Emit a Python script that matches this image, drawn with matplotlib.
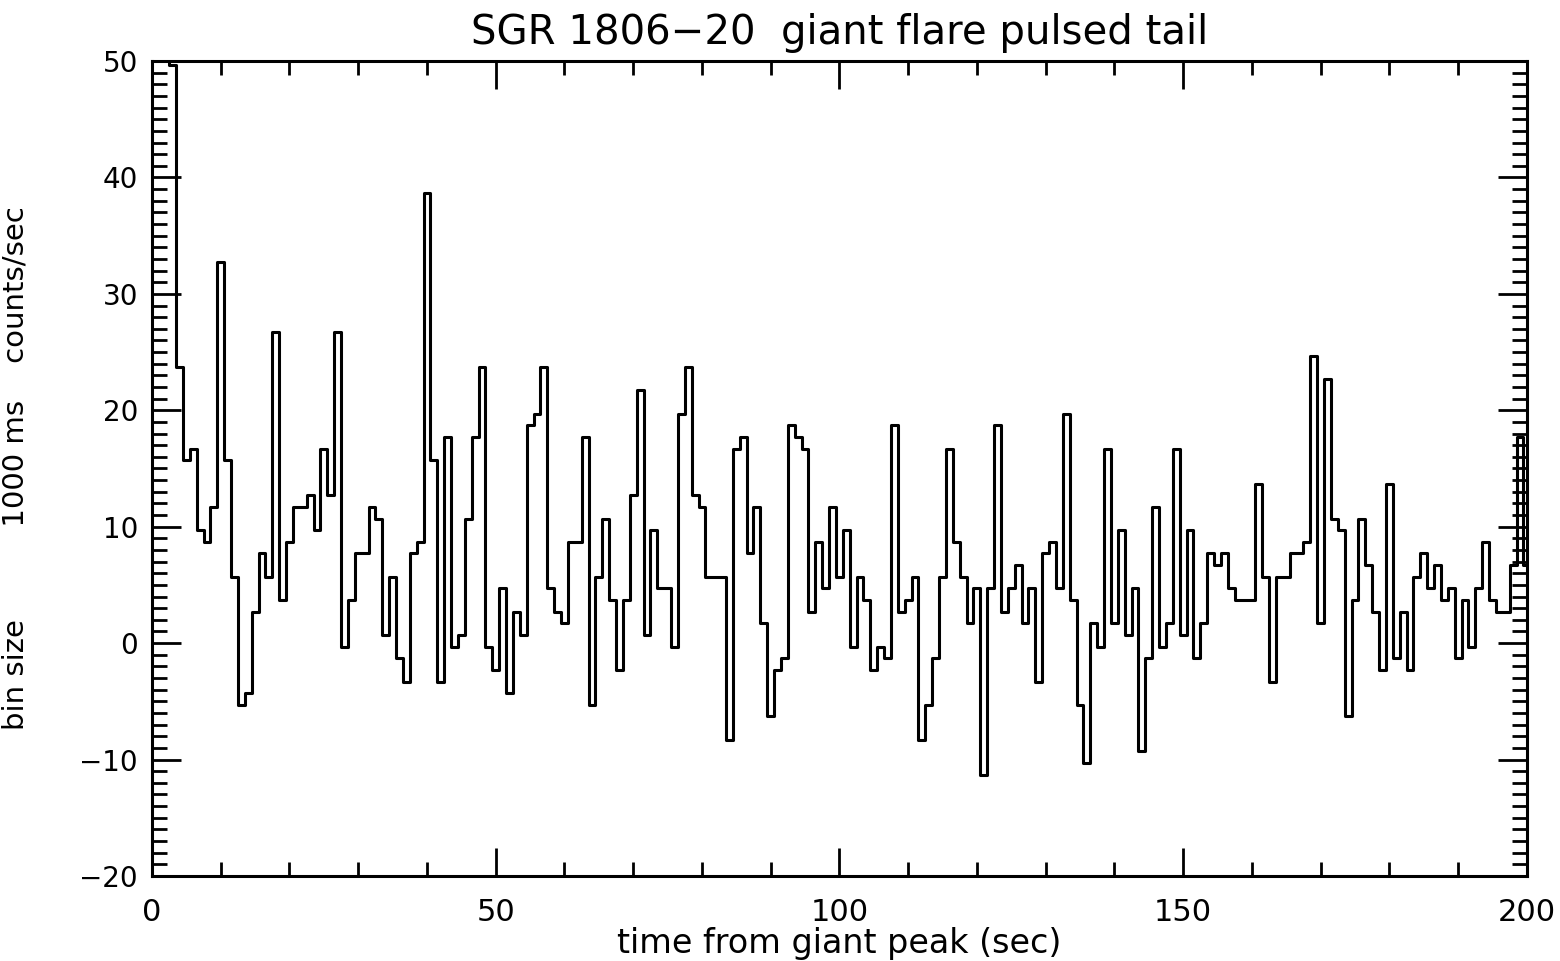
import numpy as np
import matplotlib
matplotlib.use("Agg")
import matplotlib.pyplot as plt
from matplotlib.ticker import MultipleLocator

# background-subtracted rate, 1 s bins, t = 0 .. 200 s (first bins are off scale)
rate = [
    60.0, 58.0, 54.0, 49.7, 23.7, 15.7, 16.7, 9.7, 8.7, 11.7,
    32.7, 15.7, 5.7, -5.3, -4.3, 2.7, 7.7, 5.7, 26.7, 3.7,
    8.7, 11.7, 11.7, 12.7, 9.7, 16.7, 12.7, 26.7, -0.3, 3.7,
    7.7, 7.7, 11.7, 10.7, 0.7, 5.7, -1.3, -3.3, 7.7, 8.7,
    38.7, 15.7, -3.3, 17.7, -0.3, 0.7, 10.7, 17.7, 23.7, -0.3,
    -2.3, 4.7, -4.3, 2.7, 0.7, 18.7, 19.7, 23.7, 4.7, 2.7,
    1.7, 8.7, 8.7, 17.7, -5.3, 5.7, 10.7, 3.7, -2.3, 3.7,
    12.7, 21.7, 0.7, 9.7, 4.7, 4.7, -0.3, 19.7, 23.7, 12.7,
    11.7, 5.7, 5.7, 5.7, -8.3, 16.7, 17.7, 7.7, 11.7, 1.7,
    -6.3, -2.3, -1.3, 18.7, 17.7, 16.7, 2.7, 8.7, 4.7, 11.7,
    5.7, 9.7, -0.3, 5.7, 3.7, -2.3, -0.3, -1.3, 18.7, 2.7,
    3.7, 5.7, -8.3, -5.3, -1.3, 5.7, 16.7, 8.7, 5.7, 1.7,
    4.7, -11.3, 4.7, 18.7, 2.7, 4.7, 6.7, 1.7, 4.7, -3.3,
    7.7, 8.7, 4.7, 19.7, 3.7, -5.3, -10.3, 1.7, -0.3, 16.7,
    1.7, 9.7, 0.7, 4.7, -9.3, -1.3, 11.7, -0.3, 1.7, 16.7,
    0.7, 9.7, -1.3, 1.7, 7.7, 6.7, 7.7, 4.7, 3.7, 3.7,
    3.7, 13.7, 5.7, -3.3, 5.7, 5.7, 7.7, 7.7, 8.7, 24.7,
    1.7, 22.7, 10.7, 9.7, -6.3, 3.7, 10.7, 6.7, 2.7, -2.3,
    13.7, -1.3, 2.7, -2.3, 5.7, 7.7, 4.7, 6.7, 3.7, 4.7,
    -1.3, 3.7, -0.3, 4.7, 8.7, 3.7, 2.7, 2.7, 6.7, 17.7,
    6.7,
]
time = np.arange(len(rate))

x_ticks = [0, 50, 100, 150, 200]
y_ticks = [-20, -10, 0, 10, 20, 30, 40, 50]

fig = plt.figure(figsize=(15.6, 9.61), dpi=100)
ax = fig.add_axes([0.0974, 0.0885, 0.8814, 0.848])

ax.step(time, rate, where="mid", color="black", lw=2.2)

ax.set_xlim(0, 200)
ax.set_ylim(-20, 50)
ax.set_xticks(x_ticks)
ax.set_yticks(y_ticks)
ax.xaxis.set_minor_locator(MultipleLocator(10))
ax.yaxis.set_minor_locator(MultipleLocator(1))

ax.tick_params(axis="both", which="both", direction="in",
               top=True, right=True, width=2, labelsize=20)
ax.tick_params(axis="x", which="major", length=20, pad=16, labelsize=22)
ax.tick_params(axis="x", which="minor", length=10)
ax.tick_params(axis="y", which="major", length=21, pad=10)
ax.tick_params(axis="y", which="minor", length=11)
for s in ax.spines.values():
    s.set_linewidth(2.2)

ax.set_title("SGR 1806\u221220  giant flare pulsed tail", fontsize=29, pad=12)
ax.set_xlabel("time from giant peak (sec)", fontsize=24, labelpad=0)
ax.set_ylabel("bin size          1000 ms    counts/sec", fontsize=21)
ax.yaxis.set_label_coords(-0.089, 0.5)

fig.savefig("out.png", dpi=100)
